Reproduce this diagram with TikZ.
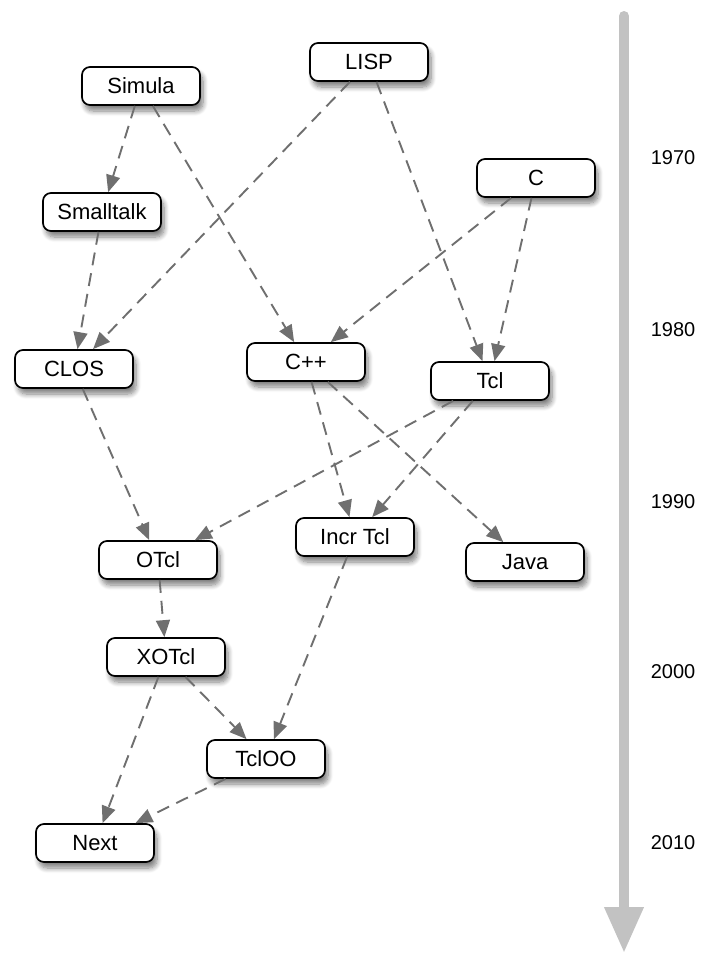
\documentclass[tikz,border=0pt]{standalone}
\usepackage{fontspec}
\setmainfont{Liberation Sans}
\usetikzlibrary{arrows.meta,shadows.blur}
\definecolor{edgegray}{HTML}{6F6F6F}
\definecolor{axisgray}{HTML}{C2C2C2}
\begin{document}
\begin{tikzpicture}[x=1pt, y=-1pt,
    lang/.style={draw, line width=1.7pt, rounded corners=8pt, fill=white,
      minimum width=118pt, minimum height=38pt, inner sep=0pt,
      font=\fontsize{22}{26}\selectfont,
      blur shadow={shadow xshift=3pt, shadow yshift=-6pt, shadow blur steps=8,
        shadow blur radius=5pt, shadow opacity=50}},
    infl/.style={draw=edgegray, line width=1.9pt, dash pattern=on 13pt off 8pt,
      -{Triangle[length=17pt, width=14pt]}},
    yr/.style={font=\fontsize{20}{24}\selectfont}]
  \useasboundingbox (0,0) rectangle (704,953);
  % time axis
  \coordinate (top) at (624,16);
  \coordinate (bot) at (624,953);
  \draw[axisgray, line width=10pt, line cap=round,
    -{Triangle[length=46pt, width=37pt, line cap=butt]}] (top) -- (bot);
  \foreach \y/\t in {158/1970, 330/1980, 502/1990, 672/2000, 843/2010}
    \node[yr] (y\t) at (673,\y) {\t};
  % languages
  \node[lang] (simula) at (141,86) {Simula};
  \node[lang] (lisp) at (369,62) {LISP};
  \node[lang] (c) at (536,178) {C};
  \node[lang] (smalltalk) at (102,212) {Smalltalk};
  \node[lang] (clos) at (74,369) {CLOS};
  \node[lang] (cpp) at (306,362) {C++};
  \node[lang] (tcl) at (490,381) {Tcl};
  \node[lang] (otcl) at (158,560) {OTcl};
  \node[lang] (incr) at (355,537) {Incr Tcl};
  \node[lang] (java) at (525,562) {Java};
  \node[lang] (xotcl) at (166,657) {XOTcl};
  \node[lang] (tcloo) at (266,759) {TclOO};
  \node[lang] (next) at (95,843) {Next};
  % influences
  \foreach \a/\b in {simula/smalltalk, simula/cpp, lisp/clos, lisp/tcl,
      c/cpp, c/tcl, smalltalk/clos, clos/otcl, cpp/incr, cpp/java,
      tcl/otcl, tcl/incr, otcl/xotcl, incr/tcloo, xotcl/tcloo,
      xotcl/next, tcloo/next}
    \draw[infl] (\a) -- (\b);
\end{tikzpicture}
\end{document}
